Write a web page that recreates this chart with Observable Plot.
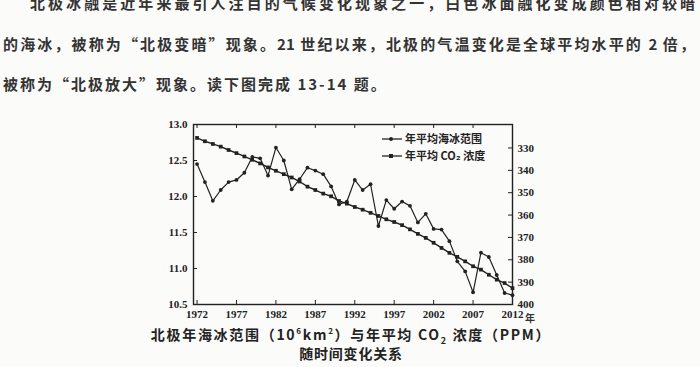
<!DOCTYPE html>
<html><head><meta charset="utf-8">
<script src="https://cdn.jsdelivr.net/npm/d3@7"></script>
<script src="https://cdn.jsdelivr.net/npm/@observablehq/plot@0.6"></script>
<style>
body{margin:0;background:#fbfbfa;width:700px;height:367px;overflow:hidden;position:relative;font-family:"Noto Sans CJK SC",sans-serif;color:#2a2a2a}
.p{position:absolute;font-size:15px;font-weight:600;line-height:24px;text-align:justify;text-align-last:justify;color:#333}
#chart{position:absolute;left:0;top:110px}
.cap{position:absolute;left:0;width:702px;text-align:center;font-size:14px;font-weight:700;line-height:15px;height:15px;color:#222}
.cap sup,.cap sub{line-height:0;font-size:8px}
.cap sub{font-size:9px}
#nian{position:absolute;left:525px;top:313px;font-size:10px;font-weight:700;color:#333;line-height:10px}
#legend{position:absolute;left:376px;top:128px}
</style></head>
<body>
<div class="p" style="left:30px;top:-9px;width:665px">北极冰融是近年来最引人注目的气候变化现象之一，白色冰面融化变成颜色相对较暗</div>
<div class="p" style="left:3px;top:32px;width:692px">的海冰，被称为“北极变暗”现象。21 世纪以来，北极的气温变化是全球平均水平的 2 倍，</div>
<div class="p" style="left:3px;top:72px;letter-spacing:2px">被称为“北极放大”现象。读下图完成 13-14 题。</div>
<div id="chart"></div>
<div id="nian">年</div>
<svg id="legend" width="130" height="40"></svg>
<div class="cap" style="top:327px;letter-spacing:1.7px">北极年海冰范围（10<sup>6</sup>km<sup>2</sup>）与年平均 CO<sub>2</sub> 浓度（PPM）</div>
<div class="cap" style="top:346px;letter-spacing:0.8px">随时间变化关系</div>
<script>
const years = [1972,1973,1974,1975,1976,1977,1978,1979,1980,1981,1982,1983,1984,1985,1986,1987,1988,1989,1990,1991,1992,1993,1994,1995,1996,1997,1998,1999,2000,2001,2002,2003,2004,2005,2006,2007,2008,2009,2010,2011,2012];
const seaIce = [12.45,12.20,11.94,12.09,12.20,12.23,12.33,12.55,12.53,12.29,12.68,12.50,12.10,12.24,12.40,12.36,12.31,12.14,11.89,11.93,12.23,12.09,12.17,11.59,11.95,11.83,11.93,11.87,11.64,11.76,11.55,11.54,11.38,11.10,10.96,10.67,11.22,11.16,10.91,10.66,10.63];
const co2 = [325.5,327.0,328.2,329.4,330.9,332.3,333.8,335.3,336.9,338.7,340.2,341.7,343.2,345.0,347.3,348.8,350.4,351.6,353.7,354.9,356.4,357.6,359.0,360.4,361.9,363.1,364.5,366.4,368.4,370.2,372.4,374.7,376.9,378.7,380.7,382.9,384.4,386.7,388.9,390.4,392.7];
const xTicks = [1972,1977,1982,1987,1992,1997,2002,2007,2012];
const leftTicks = [13.0,12.5,12.0,11.5,11.0,10.5];
const rightTicks = [330,340,350,360,370,380,390,400];
const legendLabels = ["年平均海冰范围","年平均 CO₂ 浓度"];

const P0 = 319.5, P1 = 400;
const toLeft = p => 13.0 - (p - P0) / (P1 - P0) * 2.5;
const fromLeft = v => P0 + (13.0 - v) / 2.5 * (P1 - P0);
const ice = years.map((y,i)=>({year:y, v:seaIce[i]}));
const co2d = years.map((y,i)=>({year:y, v:toLeft(co2[i])}));
const ink = "#222";
const chart = Plot.plot({
  width:700, height:215, marginTop:14, marginBottom:21, marginLeft:193, marginRight:188,
  style:{background:"transparent", fontFamily:"'Liberation Serif', serif", fontSize:"11px", fontWeight:"bold", color:ink},
  x:{domain:[1971.55, 2012], label:null},
  y:{domain:[10.5, 13.0], label:null},
  marks:[
    Plot.frame({stroke:ink, strokeWidth:1.4}),
    Plot.axisX(xTicks, {tickSize:0, tickPadding:6, tickFormat:d=>String(d), label:null}),
    Plot.ruleX(xTicks, {insetTop:176, stroke:ink}),
    Plot.ruleX(xTicks, {insetBottom:176, stroke:ink}),
    Plot.axisY(leftTicks, {tickSize:0, tickPadding:6, tickFormat:d3.format(".1f"), label:null}),
    Plot.ruleY(leftTicks, {insetRight:315, stroke:ink}),
    Plot.axisY(rightTicks.map(toLeft), {anchor:"right", tickSize:0, tickPadding:5, tickFormat:d=>String(Math.round(fromLeft(d))), label:null}),
    Plot.ruleY(rightTicks.map(toLeft), {insetLeft:315, stroke:ink}),
    Plot.line(co2d, {x:"year", y:"v", stroke:ink, strokeWidth:1.4}),
    Plot.dot(co2d, {x:"year", y:"v", symbol:"square", r:2.1, fill:ink}),
    Plot.line(ice, {x:"year", y:"v", stroke:ink, strokeWidth:1.2}),
    Plot.dot(ice, {x:"year", y:"v", r:1.9, fill:ink})
  ]
});
document.getElementById("chart").appendChild(chart);

// legend
const lg = d3.select("#legend");
legendLabels.forEach((t,i)=>{
  const y = 11 + i*17;
  lg.append("line").attr("x1",6).attr("x2",26).attr("y1",y).attr("y2",y).attr("stroke",ink).attr("stroke-width",1.3);
  if(i===0) lg.append("circle").attr("cx",15).attr("cy",y).attr("r",2).attr("fill",ink);
  else lg.append("rect").attr("x",13).attr("y",y-2).attr("width",4).attr("height",4).attr("fill",ink);
  lg.append("text").attr("x",29).attr("y",y+4).attr("font-size","11px").attr("font-weight","600")
    .attr("font-family","'Noto Sans CJK SC', sans-serif").attr("fill",ink).text(t);
});
</script>
</body></html>
